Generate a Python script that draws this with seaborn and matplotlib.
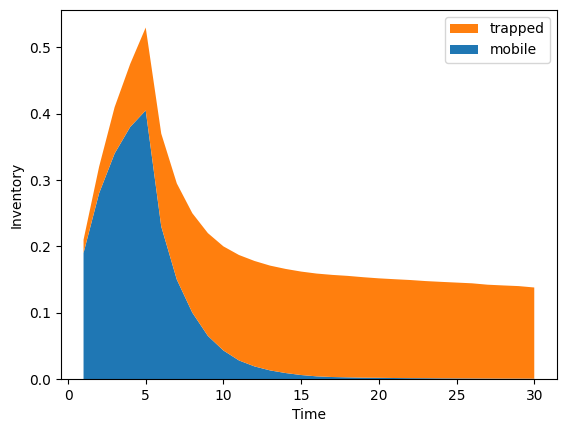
import matplotlib
matplotlib.use("Agg")
import matplotlib.pyplot as plt
import seaborn as sns
import numpy as np

# データ
time = list(range(1, 31))
mobile = [0.19, 0.28, 0.34, 0.38, 0.405, 0.23, 0.15, 0.10, 0.065, 0.043,
          0.028, 0.019, 0.013, 0.009, 0.006, 0.004, 0.003, 0.0025, 0.002, 0.0018,
          0.0015, 0.0013, 0.0012, 0.001, 0.0009, 0.0008, 0.0007, 0.0006, 0.0006, 0.0005]
trapped = [0.02, 0.04, 0.07, 0.095, 0.125, 0.14, 0.145, 0.15, 0.155, 0.157,
           0.159, 0.159, 0.158, 0.157, 0.156, 0.155, 0.154, 0.153, 0.1515, 0.150,
           0.149, 0.148, 0.1465, 0.1455, 0.1445, 0.1435, 0.1415, 0.1405, 0.1395, 0.1375]
labels = ["mobile", "trapped"]

colors = sns.color_palette("tab10", 2)

fig = plt.figure(figsize=(5.67, 4.33), dpi=100)
ax = fig.add_subplot(111)
fig.subplots_adjust(left=0.1076, right=0.982, top=0.977, bottom=0.1247)

ax.stackplot(time, mobile, trapped, labels=labels, colors=colors)

ax.set_xlabel("Time")
ax.set_ylabel("Inventory")
ax.set_ylim(bottom=0)

# 凡例の順番を逆に
handles, labs = ax.get_legend_handles_labels()
ax.legend(handles[::-1], labs[::-1], loc="upper right")

plt.savefig("out.png")
